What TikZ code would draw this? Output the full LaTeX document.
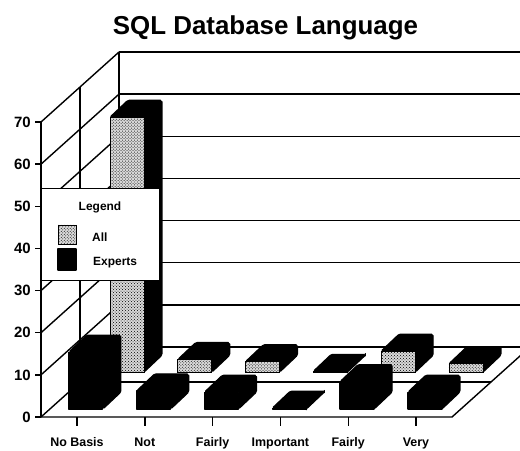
\documentclass[tikz,border=0pt]{standalone}
\usepackage{fontspec}
\setmainfont{Liberation Sans}
\usetikzlibrary{patterns}
\tikzset{
  gridline/.style={line width=1.4bp, black},
  barface/.style={fill=black, draw=black, line width=1.2bp, line join=round, rounded corners=1.5bp},
  stipple/.style={fill=gray!30, draw=black, line width=0.8bp, postaction={pattern=crosshatch dots}},
  solidface/.style={fill=black, draw=black, line width=1.2bp, line join=round},
  ticklab/.style={font=\fontsize{15}{15}\selectfont\bfseries, anchor=east, inner sep=0pt},
  catlab/.style={font=\fontsize{12.5}{13}\selectfont\bfseries, anchor=base, inner sep=0pt},
  legtext/.style={font=\fontsize{12}{13}\selectfont\bfseries, anchor=base west, inner sep=0pt},
}
\newcommand{\drawbar}[5]{%
  \pgfmathsetmacro{\bx}{#2-17+78*#4}%
  \pgfmathsetmacro{\by}{417-70*#4}%
  \pgfmathsetmacro{\bt}{\by-4.214*#3}%
  \coordinate (#1-fl) at (\bx,\by);
  \coordinate (#1-fr) at (\bx+34,\by);
  \coordinate (#1-tl) at (\bx,\bt);
  \coordinate (#1-tr) at (\bx+34,\bt);
  \coordinate (#1-btl) at (\bx+18,\bt-17);
  \coordinate (#1-btr) at (\bx+52,\bt-17);
  \coordinate (#1-bbr) at (\bx+52,\by-17);
  \draw[barface] (#1-tl) -- (#1-tr) -- (#1-btr) -- (#1-btl) -- cycle;
  \draw[barface] (#1-fr) -- (#1-bbr) -- (#1-btr) -- (#1-tr) -- cycle;
  \draw[#5] (#1-fl) rectangle (#1-tr);
}
\begin{document}
\begin{tikzpicture}[x=1bp,y=-1bp]
\useasboundingbox (0,0) rectangle (520,451);
\fill[white] (0,0) rectangle (520,451);
\clip (0,0) rectangle (520,451);

% title
\node[font=\fontsize{26}{30}\selectfont\bfseries, anchor=base, inner sep=0pt] (title) at (265.5,35) {SQL Database Language};

% back wall and left wall grid
\foreach \v in {0,10,...,70} {
  \pgfmathsetmacro{\yf}{417-4.214*\v}
  \pgfmathsetmacro{\yb}{347-4.214*\v}
  \draw[gridline] (119,\yb) -- (530,\yb);
  \draw[gridline] (41,\yf) -- (119,\yb);
  \draw[gridline] (35,\yf) -- (41,\yf);
  \node[ticklab] (lab\v) at (31,\yf) {\v};
}
\coordinate (fo) at (41,417);
\coordinate (ft) at (41,122);
\coordinate (mo) at (80,382);
\coordinate (mt) at (80,87);
\coordinate (bo) at (119,347);
\coordinate (bt) at (119,52);
\coordinate (fr) at (452,417);
\coordinate (br) at (530,347);
\coordinate (mr) at (491,382);
\draw[gridline] (fo) -- (ft);
\draw[gridline] (mo) -- (mt);
\draw[gridline] (bo) -- (bt);
\draw[gridline] (fo) -- (fr) -- (br);
\draw[gridline] (mo) -- (mr);

% category ticks and labels
\foreach \i/\t in {0/No Basis,1/Not,2/Fairly,3/Important,4/Fairly,5/Very} {
  \pgfmathsetmacro{\cx}{77+67.8*\i}
  \draw[gridline] (\cx,417) -- (\cx,426);
  \node[catlab] (cat\i) at (\cx,446.5) {\t};
}

% All row (back)
\drawbar{a0}{77}{60.5}{0.64}{stipple}
\drawbar{a1}{144.8}{3}{0.64}{stipple}
\drawbar{a2}{212.6}{2.5}{0.64}{stipple}
\drawbar{a3}{280.4}{0.2}{0.64}{stipple}
\drawbar{a4}{348.2}{5}{0.64}{stipple}
\drawbar{a5}{416}{2}{0.64}{stipple}

% Experts row (front)
\drawbar{e0}{77}{13.5}{0.114}{solidface}
\drawbar{e1}{144.8}{4.3}{0.114}{solidface}
\drawbar{e2}{212.6}{4}{0.114}{solidface}
\drawbar{e3}{280.4}{0.2}{0.114}{solidface}
\drawbar{e4}{348.2}{6.5}{0.114}{solidface}
\drawbar{e5}{416}{4}{0.114}{solidface}

% legend
\draw[fill=white, line width=1bp] (41,189) rectangle (159,280);
\node[font=\fontsize{12}{13}\selectfont\bfseries, anchor=base, inner sep=0pt] (legtitle) at (100,211) {Legend};
\draw[stipple] (58,225) rectangle (76,244);
\node[legtext] (legall) at (92,242) {All};
\draw[solidface] (58,249) rectangle (76,270);
\node[legtext] (legexp) at (93,265) {Experts};
\end{tikzpicture}
\end{document}
